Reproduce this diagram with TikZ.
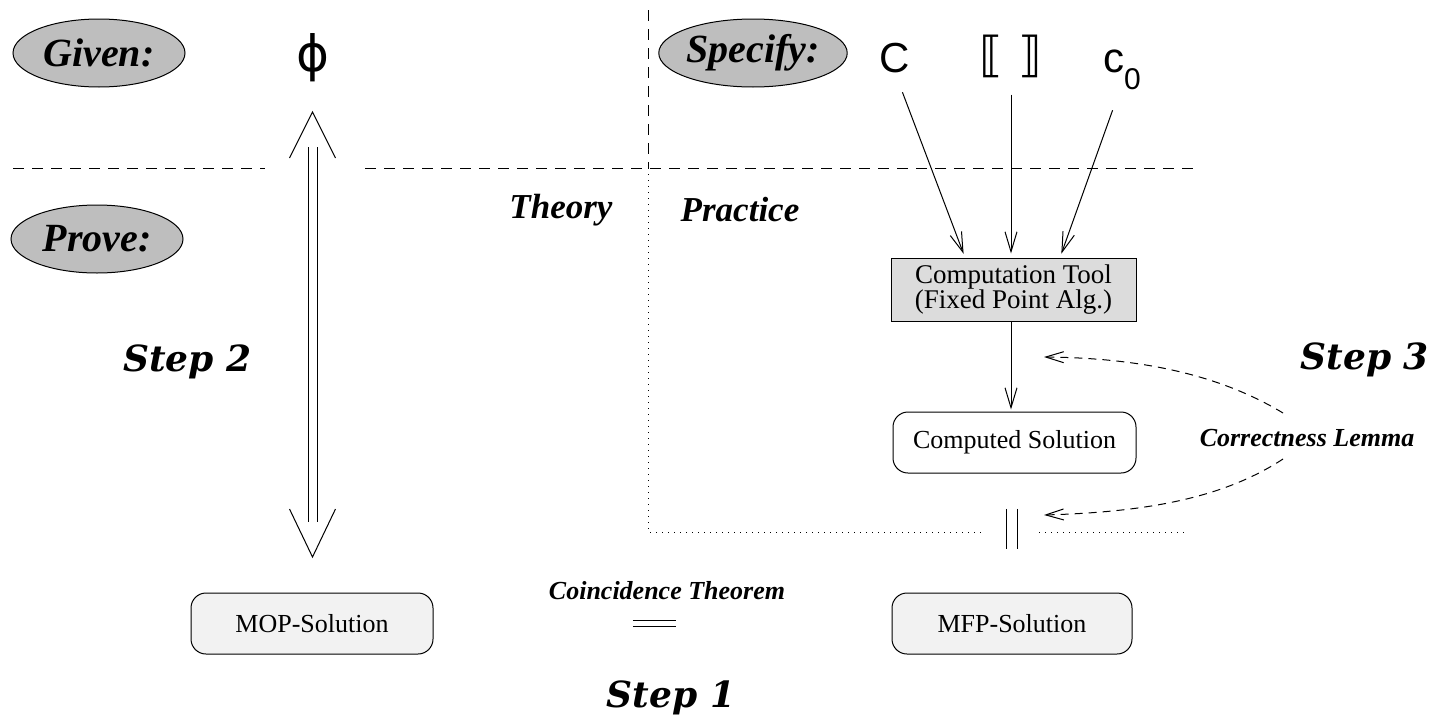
\documentclass[tikz,border=0pt]{standalone}
\usepackage{fontspec}
\setmainfont{Liberation Serif}
\newfontfamily\stepfont{DejaVu Serif}
\newfontfamily\symfont{DejaVu Sans}
\newfontfamily\sansf{Liberation Sans}
\usetikzlibrary{arrows.meta,shapes.geometric,calc}
\definecolor{ellgray}{HTML}{BEBEBE}
\definecolor{toolgray}{HTML}{DCDCDC}
\definecolor{solgray}{HTML}{F2F2F2}
\begin{document}
\begin{tikzpicture}[x=1pt,y=-1pt,
  every node/.style={inner sep=0pt},
  tag/.style={ellipse, draw, line width=1pt, fill=ellgray, minimum width=172pt, minimum height=68pt, font=\fontsize{40}{40}\selectfont\bfseries\itshape},
  tool/.style={draw, line width=1pt, fill=toolgray, minimum width=245pt, minimum height=63pt, align=center, font=\fontsize{27}{25}\selectfont},
  sol/.style={draw, line width=1pt, rounded corners=15pt, minimum width=242pt, minimum height=61pt, font=\fontsize{26}{26}\selectfont},
  region/.style={font=\fontsize{35}{35}\selectfont\bfseries\itshape},
  steplbl/.style={font=\stepfont\fontsize{36}{36}\selectfont\bfseries\itshape},
  lemmalbl/.style={font=\fontsize{26}{26}\selectfont\bfseries\itshape},
  sym/.style={font=\sansf\fontsize{42}{42}\selectfont},
  arr/.style={line width=1pt, -{Straight Barb[length=20pt,width=12pt]}},
  divdash/.style={line width=1pt, dash pattern=on 11pt off 8pt},
  divdot/.style={line width=1pt, dash pattern=on 1pt off 5pt},
  curvdash/.style={line width=1pt, dash pattern=on 8pt off 6pt, -{Straight Barb[length=18pt,width=11pt]}},
  thin/.style={line width=1pt}
]
\useasboundingbox (0,0) rectangle (1438,715);

% dividers
\draw[divdash] (13,168) -- (265,168);
\draw[divdash] (365,168) -- (1195,168);
\draw[divdash] (648,10) -- (648,168);
\draw[divdot] (648,168) -- (648,532) -- (983,532);
\draw[divdot] (1039,532) -- (1188,532);

% tags
\node[tag] (given) at (99,53) {Given:};
\node[tag] (prove) at (97,239) {Prove:};
\node[tag] (specify) at (753,53) {Specify:};

% symbols
\node[font=\symfont\fontsize{50}{50}\selectfont] (phi) at (313,58) {ϕ};
\node[sym, anchor=base] (C) at (895,72) {C};
\node[font=\symfont\fontsize{48}{48}\selectfont] (brk) at (1011,56) {⟦\hspace{16pt}⟧};
\node[sym, anchor=base west] (c0) at (1103,72) {c\raisebox{-17pt}{\fontsize{30}{30}\selectfont 0}};

% region labels
\node[region] (theory) at (561,210) {Theory};
\node[region] (practice) at (740,210) {Practice};

% boxes
\node[tool] (comp) at (1013.5,289.5) {Computation Tool\\(Fixed Point Alg.)};
\node[sol, minimum width=243pt] (computed) at (1014.5,442.5) {Computed Solution};
\node[sol, fill=solgray] (mop) at (312,623.5) {MOP-Solution};
\node[sol, fill=solgray, minimum width=240pt] (mfp) at (1012,623.5) {MFP-Solution};

% input arrows
\draw[arr, shorten <=21pt, shorten >=4pt] (C.south) -- ($(comp.north)+(-48.5,0)$);
\draw[arr, shorten <=17pt, shorten >=4pt] (brk.south) -- ($(comp.north)+(-2.5,0)$);
\draw[arr, shorten <=22pt, shorten >=4pt] ($(c0.south west)+(17,0)$) -- ($(comp.north)+(46.5,0)$);
\draw[arr, shorten >=2pt] ($(comp.south)+(-2.5,0)$) -- ($(computed.north)+(-3.5,0)$);

% big double arrow (Step 2)
\coordinate (dt) at (312.5,112);
\coordinate (db) at (312.5,557);
\draw[thin, double, double distance=8pt] (312.5,147) -- (312.5,522);
\draw[thin] ($(dt)+(-23,46)$) -- (dt) -- ($(dt)+(23,46)$);
\draw[thin] ($(db)+(-23,-48)$) -- (db) -- ($(db)+(23,-48)$);

% equality signs
\node[minimum width=10pt, minimum height=40pt] (eqv) at (1012,529) {};
\draw[thin] (eqv.north west) -- (eqv.south west);
\draw[thin] (eqv.north east) -- (eqv.south east);
\node[minimum width=43pt, minimum height=5pt] (eqh) at (654.5,623.5) {};
\draw[thin] (eqh.north west) -- (eqh.north east);
\draw[thin] (eqh.south west) -- (eqh.south east);
\node[lemmalbl] (coin) at (667,591) {Coincidence Theorem};

% lemma and curved arrows
\node[lemmalbl] (lemma) at (1307,438) {Correctness Lemma};
\coordinate (la) at (1283,413);
\coordinate (lb) at (1283,459);
\coordinate (ta) at (1044,357);
\coordinate (tb) at (1044,515);
\draw[curvdash] (la) .. controls (1225,378) and (1150,358) .. (ta);
\draw[curvdash] (lb) .. controls (1225,497) and (1150,512) .. (tb);

% step labels
\node[steplbl, anchor=base west] (s2) at (123,371) {Step 2};
\node[steplbl, anchor=base east] (s3) at (1429,369) {Step 3};
\node[steplbl, anchor=base] (s1) at (671,707) {Step 1};
\end{tikzpicture}
\end{document}
